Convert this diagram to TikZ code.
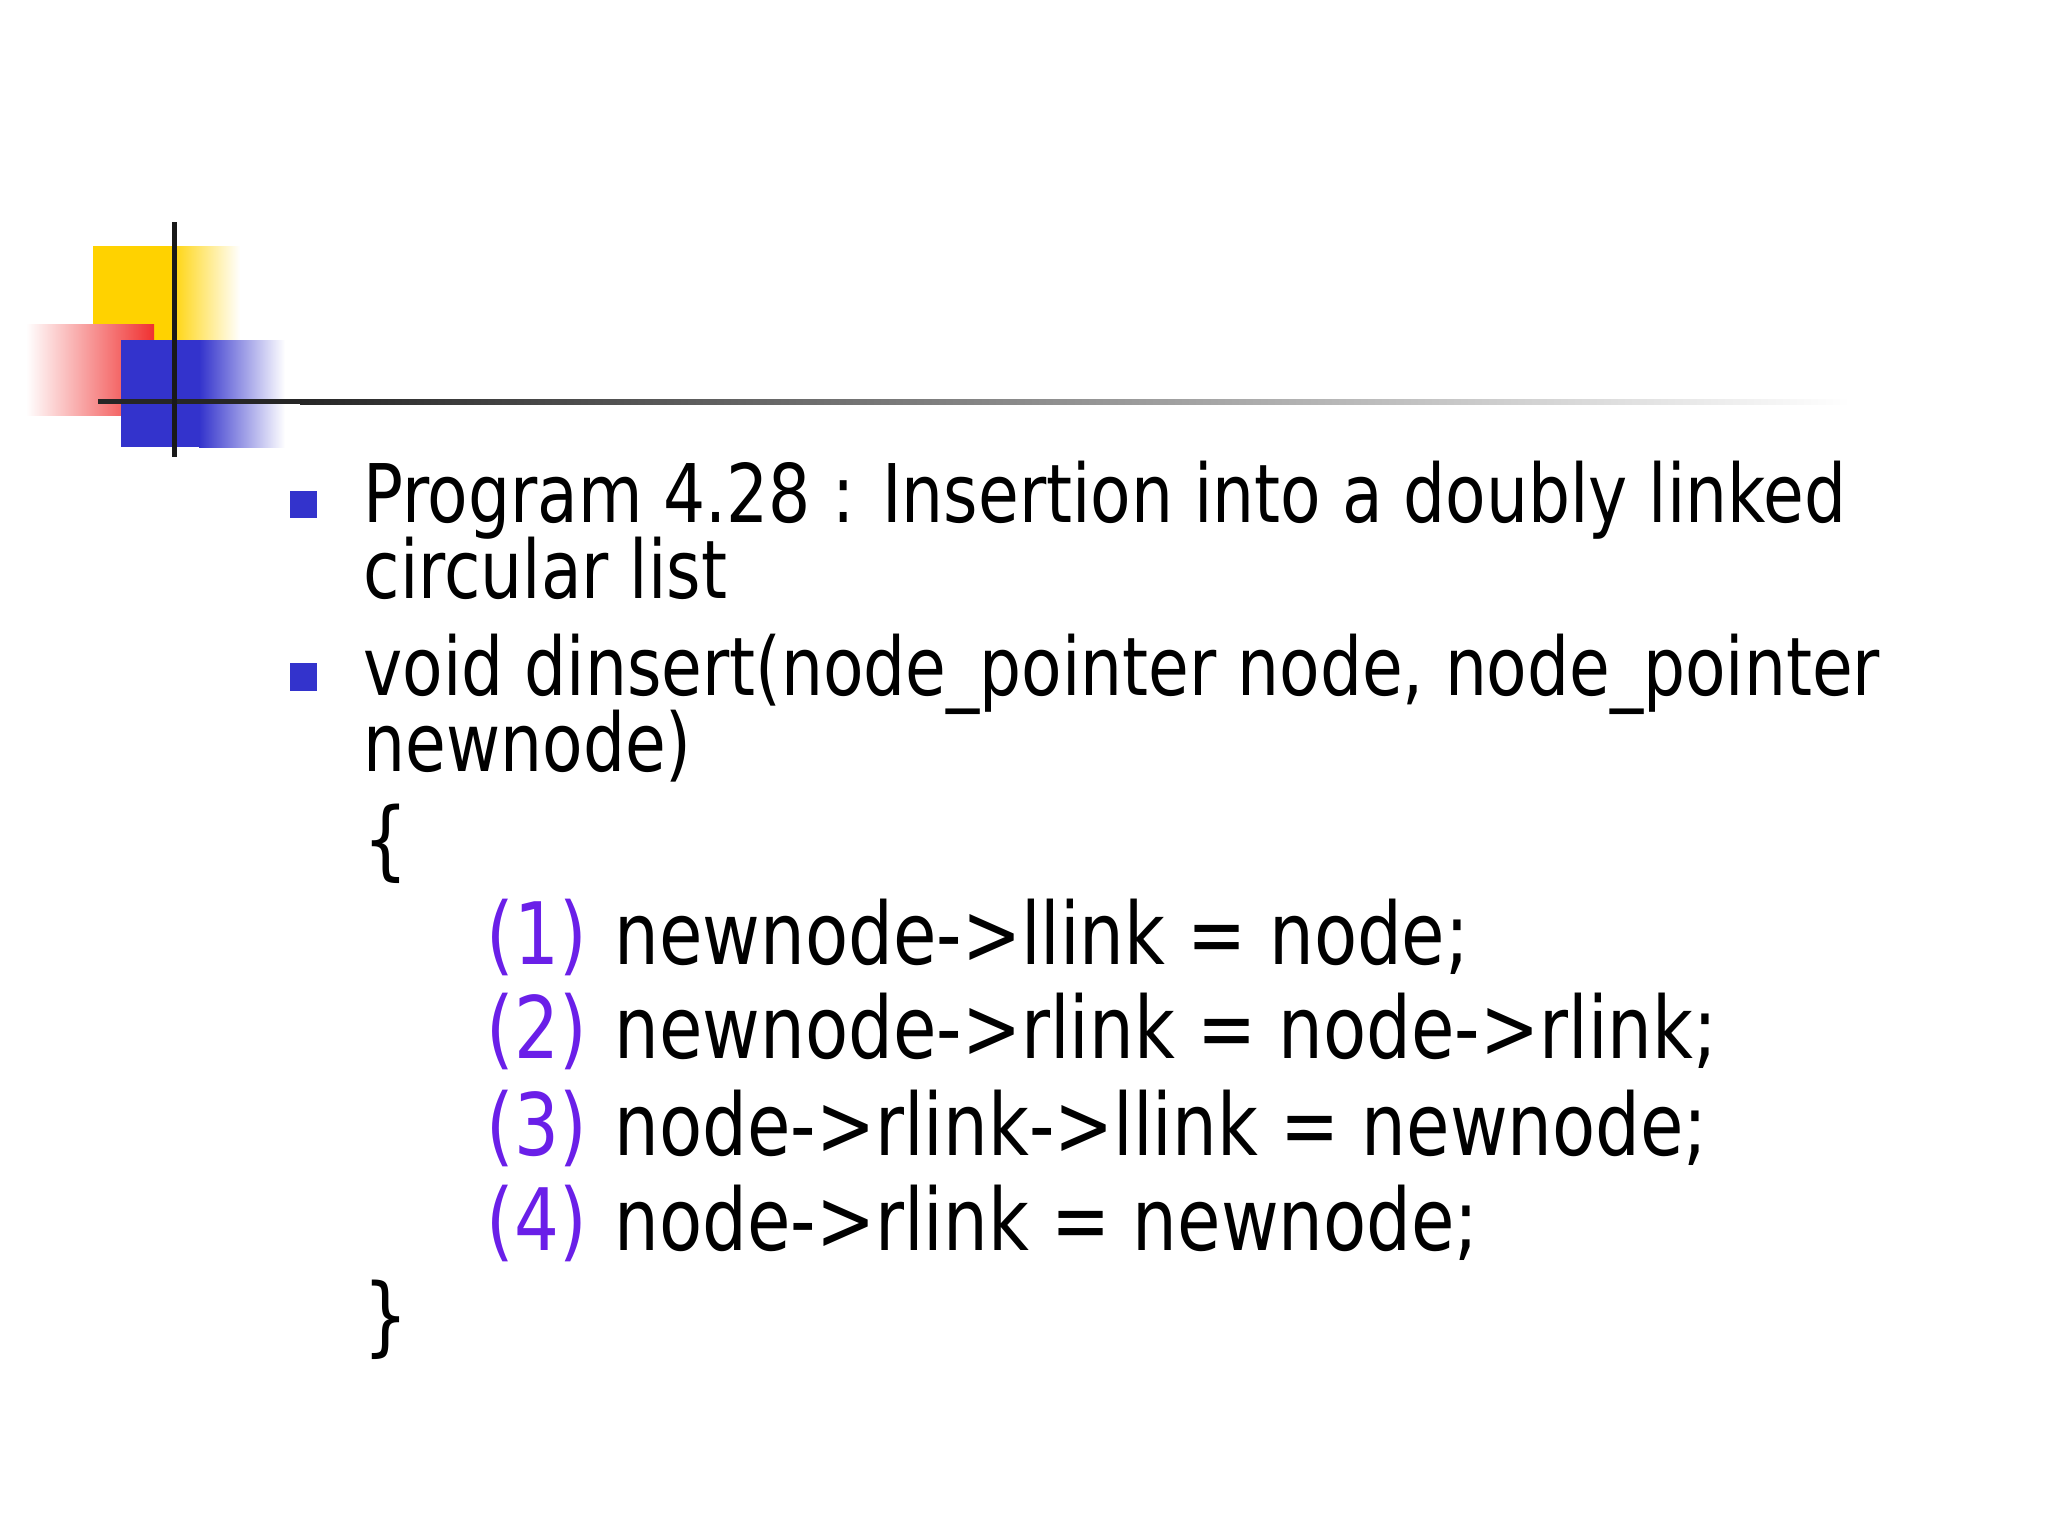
\documentclass[tikz,border=0pt]{standalone}
\usepackage{fontspec}
\setmainfont{DejaVu Sans Condensed}[FakeStretch=0.91]
\definecolor{yel}{HTML}{FFD200}
\definecolor{rd}{HTML}{F03030}
\definecolor{bl}{HTML}{3333CC}
\definecolor{num}{HTML}{6A1FE8}
\begin{document}
\begin{tikzpicture}[x=0.01cm,y=-0.01cm,
  txt/.style={anchor=base west,inner sep=0,font=\fontsize{23}{27}\selectfont},
  code/.style={anchor=base west,inner sep=0,font=\fontsize{24.5}{29}\selectfont},
  bul/.style={fill=bl,draw=none}]
\useasboundingbox (0,0) rectangle (2048,1536);
% decoration
\fill[yel] (93,246) rectangle (170,342);
\shade[left color=yel,right color=white] (169,246) rectangle (240,342);
\shade[left color=white,right color=rd] (26,324) rectangle (154,415);
\fill[bl] (121,340) rectangle (200,447);
\shade[left color=bl,right color=white] (199,340) rectangle (285,447);
\shade[left color=black!85,right color=white] (300,399) rectangle (1850,404);
\fill[black!85] (98,399) rectangle (301,404);
\fill[black!90] (172,222) rectangle (177,457);
% bullets
\fill[bul] (290,491) rectangle (317,518);
\fill[bul] (290,663) rectangle (317,691);
\node[txt] (l1) at (363,522) {Program 4.28 : Insertion into a doubly linked};
\node[txt] (l2) at (363,598) {circular list};
\node[txt] (l3) at (363,695) {void dinsert(node\_pointer node, node\_pointer};
\node[txt] (l4) at (363,771) {newnode)};
\node[code] (ob) at (363,869) {\{};
\node[code,text=num] (n1) at (486,964) {(1)};
\node[code] (c1) at (614,964) {newnode->llink = node;};
\node[code,text=num] (n2) at (486,1058) {(2)};
\node[code] (c2) at (614,1058) {newnode->rlink = node->rlink;};
\node[code,text=num] (n3) at (486,1155) {(3)};
\node[code] (c3) at (614,1155) {node->rlink->llink = newnode;};
\node[code,text=num] (n4) at (486,1250) {(4)};
\node[code] (c4) at (614,1250) {node->rlink = newnode;};
\node[code] (cb) at (363,1345) {\}};
\end{tikzpicture}
\end{document}
